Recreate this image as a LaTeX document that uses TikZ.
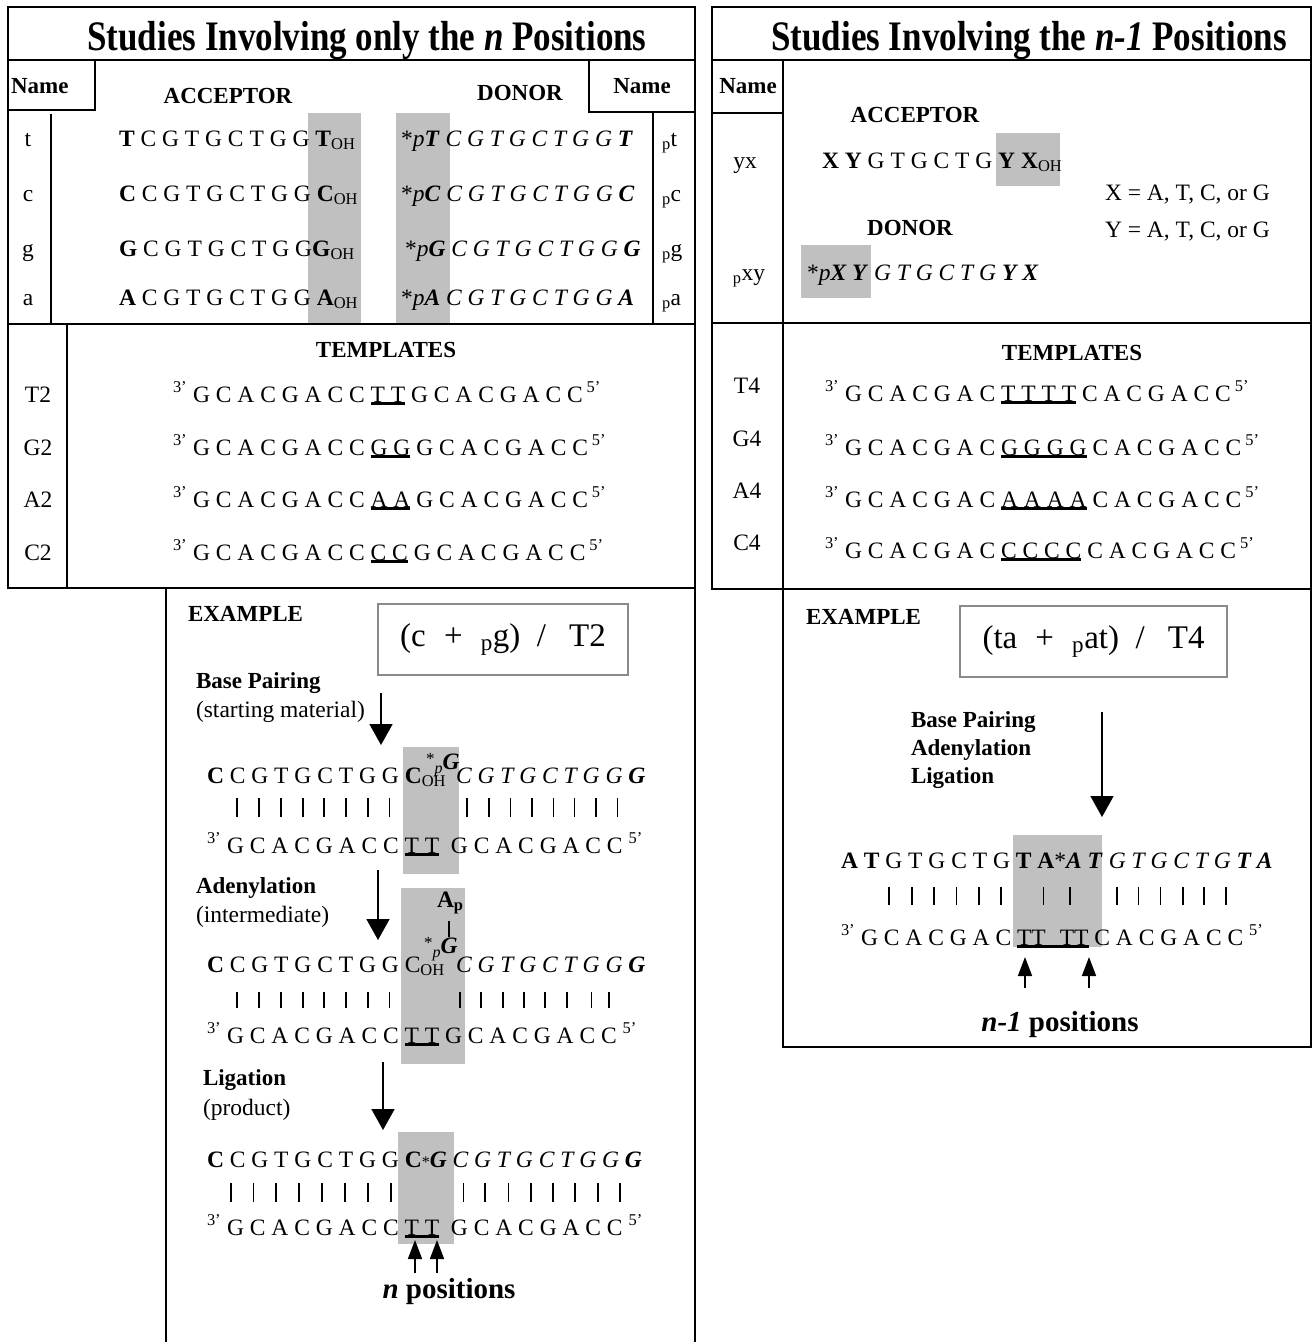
\documentclass[tikz,border=0pt]{standalone}
\usepackage{fontspec}
\usepackage{graphicx}
\setmainfont{Liberation Serif}
\usetikzlibrary{arrows.meta}
\definecolor{shade}{HTML}{C0C0C0}
\definecolor{boxgray}{HTML}{8A8A8A}
% type sizes
\newcommand\seqf{\fontsize{23.5}{28}\selectfont}
\newcommand\headf{\fontsize{23}{28}\selectfont\bfseries}
\newcommand\titlef{\fontsize{35}{40}\selectfont\bfseries}
% bold italic, thick underline, raised star with lowered p
\newcommand\bitx[1]{\textbf{\textit{#1}}}
\newsavebox\tulbox
\newcommand\tul[1]{\sbox\tulbox{#1}\rlap{\rule[-3pt]{\wd\tulbox}{2.8pt}}\usebox\tulbox}
\newcommand\starp{\raisebox{5pt}{\fontsize{17}{17}\selectfont *}\raisebox{-4pt}{\fontsize{16}{16}\selectfont\itshape p}}
\newcommand\psub{\textsubscript{p}}
\begin{document}
\begin{tikzpicture}[x=1pt,y=-1pt,
  every node/.style={inner sep=0pt,outer sep=0pt,font=\seqf},
  gridline/.style={line width=1.8pt},
  shadebox/.style={fill=shade,draw=none},
  pairbar/.style={line width=1.8pt},
  stepflow/.style={line width=1.6pt,-{Triangle[length=21pt,width=23pt]}},
  posarrow/.style={line width=1.6pt,-{Triangle[length=19pt,width=14pt]}},
  formulabox/.style={draw=boxgray,line width=1.8pt,font=\fontsize{33}{38}\selectfont},
  lefttext/.style={anchor=base west},
  midtext/.style={anchor=base},
]
\useasboundingbox (0,0) rectangle (1313,1342);

% ---------- shaded regions ----------
\fill[shadebox] (308,113) rectangle (361,324);
\fill[shadebox] (396,113) rectangle (450,324);
\fill[shadebox] (996,133) rectangle (1060,186);
\fill[shadebox] (801,245) rectangle (871,298);
\fill[shadebox] (403,747) rectangle (459,874);
\fill[shadebox] (401,888) rectangle (465,1064);
\fill[shadebox] (398,1132) rectangle (454,1244);
\fill[shadebox] (1013,835) rectangle (1102,947);

% ---------- left panel grid ----------
\draw[gridline] (8,7) rectangle (695,588);
\draw[gridline] (8,60) -- (695,60);
\draw[gridline] (95,60) -- (95,110) -- (8,110);
\draw[gridline] (589,60) -- (589,112) -- (695,112);
\draw[gridline] (51,114) -- (51,325);
\draw[gridline] (653,112) -- (653,324);
\draw[gridline] (8,324) -- (695,324);
\draw[gridline] (67,324) -- (67,588);
\draw[gridline] (166,588) -- (166,1342);
\draw[gridline] (695,588) -- (695,1342);

% ---------- right panel grid ----------
\draw[gridline] (712,7) rectangle (1311,589);
\draw[gridline] (712,60) -- (1311,60);
\draw[gridline] (783,60) -- (783,589);
\draw[gridline] (712,113) -- (783,113);
\draw[gridline] (712,323) -- (1311,323);
\draw[gridline] (783,589) -- (783,1047) -- (1311,1047) -- (1311,589);

% ---------- titles ----------
\node[midtext] (titleL) at (367,50) {\titlef\scalebox{1}[1.2]{Studies Involving only the \textit{n} Positions}};
\node[midtext] (titleR) at (1029,50) {\titlef\scalebox{1}[1.2]{Studies Involving the \textit{n-1} Positions}};

% ---------- left table ----------
\node[lefttext] (nameL) at (11,93) {\headf Name};
\node[midtext] (nameR) at (642,93) {\headf Name};
\node[midtext] (accL) at (228,103) {\headf ACCEPTOR};
\node[midtext] (donL) at (520,100) {\headf DONOR};

\node[midtext] (nt) at (28,146) {t};
\node[lefttext] (acct) at (119,146) {\textbf{T} C G T G C T G G \textbf{T}\textsubscript{OH}};
\node[lefttext] (dont) at (401,146) {*\textit{p}\bitx{T} \textit{C G T G C T G G} \bitx{T}};
\node[lefttext] (pt) at (662,146) {\psub t};

\node[midtext] (nc) at (28,201) {c};
\node[lefttext] (accc) at (119,201) {\textbf{C} C G T G C T G G \textbf{C}\textsubscript{OH}};
\node[lefttext] (donc) at (401,201) {*\textit{p}\bitx{C} \textit{C G T G C T G G} \bitx{C}};
\node[lefttext] (pc) at (662,201) {\psub c};

\node[midtext] (ng) at (28,256) {g};
\node[lefttext] (accg) at (119,256) {\textbf{G} C G T G C T G G\textbf{G}\textsubscript{OH}};
\node[lefttext] (dong) at (405,256) {*\textit{p}\bitx{G} \textit{C G T G C T G G} \bitx{G}};
\node[lefttext] (pg) at (662,256) {\psub g};

\node[midtext] (na) at (28,305) {a};
\node[lefttext] (acca) at (119,305) {\textbf{A} C G T G C T G G \textbf{A}\textsubscript{OH}};
\node[lefttext] (dona) at (401,305) {*\textit{p}\bitx{A} \textit{C G T G C T G G} \bitx{A}};
\node[lefttext] (pa) at (662,305) {\psub a};

% ---------- left templates ----------
\node[midtext] (tplL) at (386,357) {\headf TEMPLATES};
\node[midtext] (nT2) at (38,402) {T2};
\node[midtext] (nG2) at (38,455) {G2};
\node[midtext] (nA2) at (38,507) {A2};
\node[midtext] (nC2) at (38,560) {C2};
\node[lefttext] (sT2) at (173,402) {\textsuperscript{3'} G C A C G A C C \tul{T T} G C A C G A C C\,\textsuperscript{5'}};
\node[lefttext] (sG2) at (173,455) {\textsuperscript{3'} G C A C G A C C \tul{G G} G C A C G A C C\,\textsuperscript{5'}};
\node[lefttext] (sA2) at (173,507) {\textsuperscript{3'} G C A C G A C C \tul{A A} G C A C G A C C\,\textsuperscript{5'}};
\node[lefttext] (sC2) at (173,560) {\textsuperscript{3'} G C A C G A C C \tul{C C} G C A C G A C C\,\textsuperscript{5'}};

% ---------- right table ----------
\node[midtext] (nameRR) at (748,93) {\headf Name};
\node[midtext] (accR) at (915,122) {\headf ACCEPTOR};
\node[midtext] (donR) at (910,235) {\headf DONOR};
\node[midtext] (nyx) at (745,168) {yx};
\node[midtext] (npxy) at (749,280) {\psub xy};
\node[lefttext] (accyx) at (822,168) {\textbf{X Y} G T G C T G \textbf{Y X}\textsubscript{OH}};
\node[lefttext] (donxy) at (807,280) {*\textit{p}\bitx{X Y} \textit{G T G C T G} \bitx{Y X}};
\node[lefttext] (xdef) at (1105,200) {X = A, T, C, or G};
\node[lefttext] (ydef) at (1105,237) {Y = A, T, C, or G};

% ---------- right templates ----------
\node[midtext] (tplR) at (1072,360) {\headf TEMPLATES};
\node[midtext] (nT4) at (747,393) {T4};
\node[midtext] (nG4) at (747,446) {G4};
\node[midtext] (nA4) at (747,498) {A4};
\node[midtext] (nC4) at (747,550) {C4};
\node[lefttext] (sT4) at (825,401) {\textsuperscript{3'} G C A C G A C \tul{T T T T} C A C G A C C\,\textsuperscript{5'}};
\node[lefttext] (sG4) at (825,455) {\textsuperscript{3'} G C A C G A C \tul{G G G G} C A C G A C C\,\textsuperscript{5'}};
\node[lefttext] (sA4) at (825,507) {\textsuperscript{3'} G C A C G A C \tul{A A A A} C A C G A C C\,\textsuperscript{5'}};
\node[lefttext] (sC4) at (825,558) {\textsuperscript{3'} G C A C G A C \tul{C C C C} C A C G A C C\,\textsuperscript{5'}};

% ---------- left example ----------
\node[lefttext] (exL) at (188,621) {\headf EXAMPLE};
\node[formulabox,minimum width=250pt,minimum height=71pt] (fmL) at (503,639.5)
  {(c\hspace{.55em}+\hspace{.55em}\textsubscript{p}g)\hspace{.5em}/\hspace{.7em}T2};

\node[lefttext] (bpL) at (196,688) {\headf Base Pairing};
\node[lefttext] (smL) at (196,717) {(starting material)};
\coordinate (f1a) at (381,693); \coordinate (f1b) at (381,745);
\draw[stepflow] (f1a) -- (f1b);

\node[lefttext] (top1) at (207,783) {\textbf{C} C G T G C T G G \textbf{C}\textsubscript{OH}};
\node[lefttext] (sp1) at (426,769) {\starp\bitx{G}};
\node[lefttext] (don1) at (456,783) {\textit{C G T G C T G G} \bitx{G}};
\foreach \x in {236.8,259.3,281.1,302.6,323.7,346.2,367.6,389.4,467.3,488.7,510.5,532,553.4,574.5,596,617.4}
  \draw[pairbar] (\x,798) -- (\x,817);
\node[lefttext] (bot1) at (207,853) {\textsuperscript{3'} G C A C G A C C \tul{T T}\ \ G C A C G A C C \textsuperscript{5'}};

\node[lefttext] (adL) at (196,893) {\headf Adenylation};
\node[lefttext] (imL) at (196,922) {(intermediate)};
\coordinate (f2a) at (378,870); \coordinate (f2b) at (378,940);
\draw[stepflow] (f2a) -- (f2b);

\node[lefttext] (amp) at (437,907) {\textbf{A\textsubscript{p}}};
\coordinate (ampa) at (449,921); \coordinate (ampb) at (449,937);
\draw[pairbar] (ampa) -- (ampb);
\node[lefttext] (top2) at (207,972) {\textbf{C} C G T G C T G G C\textsubscript{OH}};
\node[lefttext] (sp2) at (424,953) {\starp\bitx{G}};
\node[lefttext] (don2) at (456,972) {\textit{C G T G C T G G} \bitx{G}};
\foreach \x in {236.8,259.3,281.1,302.6,323.7,346.2,367.6,389.4,460,481.1,502.6,524,544.8,566.6,591.5,609.1}
  \draw[pairbar] (\x,992) -- (\x,1008);
\node[lefttext] (bot2) at (207,1043) {\textsuperscript{3'} G C A C G A C C \tul{T T} G C A C G A C C \textsuperscript{5'}};

\node[lefttext] (lgL) at (203,1085) {\headf Ligation};
\node[lefttext] (prL) at (203,1115) {(product)};
\coordinate (f3a) at (383,1062); \coordinate (f3b) at (383,1130);
\draw[stepflow] (f3a) -- (f3b);

\node[lefttext] (top3) at (207,1167) {\textbf{C} C G T G C T G G \textbf{C}{\fontsize{16}{16}\selectfont *}\bitx{G} \textit{C G T G C T G G} \bitx{G}};
\foreach \x in {231,253.4,275.9,299.1,321.9,345.1,367.6,391.1,463.5,485.3,508.4,530.9,552.7,575.2,597.7,620.2}
  \draw[pairbar] (\x,1183) -- (\x,1202);
\node[lefttext] (bot3) at (207,1235) {\textsuperscript{3'} G C A C G A C C \tul{T T}\ \ G C A C G A C C \textsuperscript{5'}};

\coordinate (n1a) at (415,1273); \coordinate (n1b) at (415,1240);
\coordinate (n2a) at (437,1273); \coordinate (n2b) at (437,1240);
\draw[posarrow] (n1a) -- (n1b);
\draw[posarrow] (n2a) -- (n2b);
\node[midtext] (npos) at (449,1298) {\fontsize{29}{34}\selectfont\bfseries\textit{n} positions};

% ---------- right example ----------
\node[lefttext] (exR) at (806,624) {\headf EXAMPLE};
\node[formulabox,minimum width=267pt,minimum height=71pt] (fmR) at (1093.5,641.5)
  {(ta\hspace{.55em}+\hspace{.55em}\textsubscript{p}at)\hspace{.5em}/\hspace{.7em}T4};
\node[lefttext] (bpR) at (911,727) {\headf Base Pairing};
\node[lefttext] (adR) at (911,755) {\headf Adenylation};
\node[lefttext] (lgR) at (911,783) {\headf Ligation};
\coordinate (fra) at (1102,712); \coordinate (frb) at (1102,817);
\draw[stepflow] (fra) -- (frb);

\node[lefttext] (topR) at (841,868) {\textbf{A T} G T G C T G \textbf{T A}*\bitx{A T} \textit{G T G C T G} \bitx{T A}};
\foreach \x in {889.2,912.1,934.3,956.5,978.6,1000.8,1043.5,1070.1,1116.9,1138.4,1160.5,1182.7,1204.2,1226.1}
  \draw[pairbar] (\x,887) -- (\x,905);
\node[lefttext] (botR) at (841,945) {\textsuperscript{3'} G C A C G A C \tul{TT\hspace{14pt}TT} C A C G A C C \textsuperscript{5'}};

\coordinate (m1a) at (1025,988); \coordinate (m1b) at (1025,957);
\coordinate (m2a) at (1089,988); \coordinate (m2b) at (1089,957);
\draw[posarrow] (m1a) -- (m1b);
\draw[posarrow] (m2a) -- (m2b);
\node[midtext] (n1pos) at (1060,1031) {\fontsize{29}{34}\selectfont\bfseries\textit{n-1} positions};
\end{tikzpicture}
\end{document}
